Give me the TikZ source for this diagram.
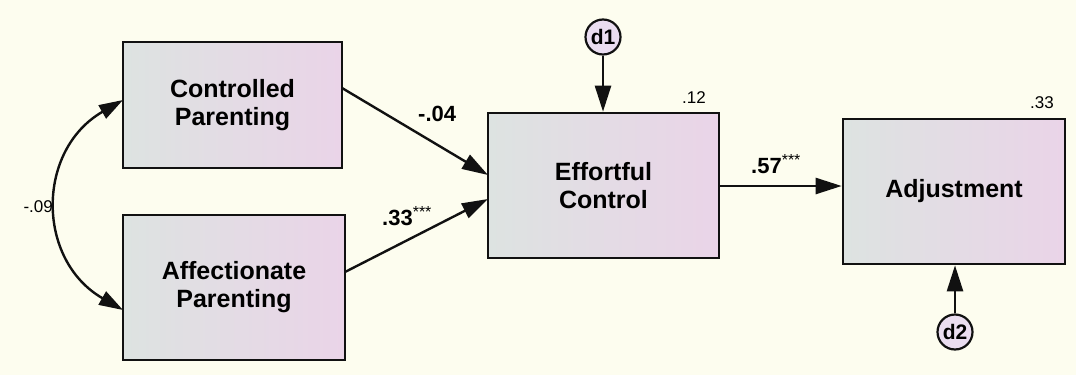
\documentclass[tikz,border=0pt]{standalone}
\usepackage{fontspec}
\setmainfont{Liberation Sans}
\usetikzlibrary{arrows.meta}
\definecolor{bgcream}{HTML}{FDFDEF}
\definecolor{boxleft}{HTML}{DDE3E1}
\definecolor{boxright}{HTML}{EAD4E8}
\definecolor{circfill}{HTML}{EADDF0}
\definecolor{ink}{HTML}{111111}
\tikzset{
  varbox/.style={draw=ink, line width=2.6pt, left color=boxleft, right color=boxright,
    minimum width=#1, inner sep=0pt, align=center,
    font=\fontsize{25}{28}\selectfont\bfseries},
  errc/.style={circle, draw=ink, line width=2.2pt, fill=circfill, minimum size=35pt, inner sep=0pt,
    font=\fontsize{21}{21}\selectfont\bfseries},
  path/.style={draw=ink, line width=2.4pt, -{Triangle[length=26pt,width=16pt]}},
  covpath/.style={draw=ink, line width=2.4pt, {Triangle[length=24pt,width=15pt]}-{Triangle[length=24pt,width=15pt]}},
  coef/.style={font=\fontsize{22}{22}\selectfont\bfseries, inner sep=0pt, anchor=base west},
  rsq/.style={font=\fontsize{17}{17}\selectfont, inner sep=0pt, anchor=base west},
}
\newcommand{\sigstars}{\raisebox{8pt}{\fontsize{16}{16}\mdseries\selectfont ***}}
\begin{document}
\begin{tikzpicture}[x=1pt,y=-1pt]
\fill[bgcream] (0,0) rectangle (1076,375);
\useasboundingbox (0,0) rectangle (1076,375);
% boxes
\node[varbox=219pt, minimum height=126pt] (cp) at (232.5,105) {Controlled\\Parenting};
\node[varbox=222pt, minimum height=145pt] (ap) at (234,287.5) {Affectionate\\Parenting};
\node[varbox=231pt, minimum height=145pt] (ec) at (603.5,185.5) {Effortful\\Control};
\node[varbox=222pt, minimum height=145pt] (adj) at (954,191.5) {Adjustment};
% error terms
\node[errc] (d1) at (603,37) {d1};
\node[errc] (d2) at (955,332) {d2};
% anchors for paths
\coordinate (cpout) at (342,88);
\coordinate (apout) at (345,272);
\coordinate (ecin1) at (488,175);
\coordinate (ecin2) at (488,199);
\coordinate (cpin) at (123,100);
\coordinate (apin) at (123,310);
% paths
\draw[path] (cpout) -- (ecin1);
\draw[path] (apout) -- (ecin2);
\draw[path] (ec.east |- 0,186) -- (adj.west |- 0,186);
\draw[path] (d1.south) -- (ec.north -| d1.south);
\draw[path] (d2.north) -- (adj.south -| d2.north);
\draw[covpath] (cpin) .. controls (36,150) and (36,260) .. (apin);
% labels
\node[coef] (lcp) at (418,121) {-.04};
\node[coef] (lap) at (382,225) {.33\sigstars};
\node[coef] (lec) at (751,173) {.57\sigstars};
\node[rsq] (r1) at (682,103) {.12};
\node[rsq] (r2) at (1030,108) {.33};
\node[rsq, anchor=base east] (cov) at (53,212) {-.09};
\end{tikzpicture}
\end{document}
